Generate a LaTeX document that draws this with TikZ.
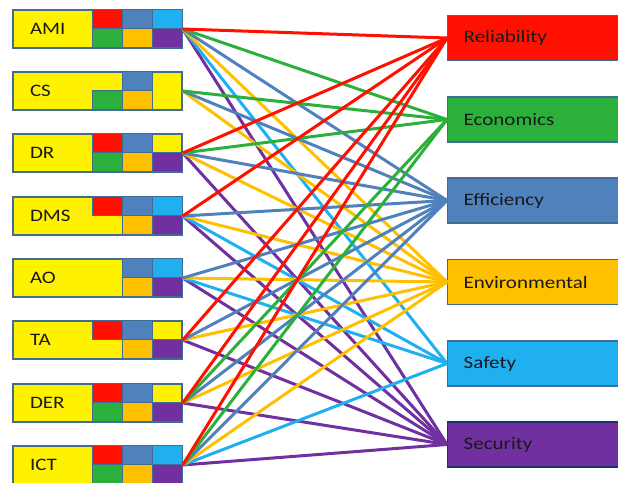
\documentclass[tikz,border=0pt]{standalone}
\usepackage{fontspec}
\setmainfont{Carlito}[FakeStretch=1.2]
\usepackage{tikz}
\usetikzlibrary{positioning}

\definecolor{rel}{RGB}{255,16,0}
\definecolor{eco}{RGB}{44,176,60}
\definecolor{eff}{RGB}{79,129,189}
\definecolor{env}{RGB}{255,192,0}
\definecolor{saf}{RGB}{32,176,240}
\definecolor{sec}{RGB}{112,48,160}
\definecolor{boxline}{RGB}{65,108,150}
\definecolor{darkline}{RGB}{30,50,110}
\definecolor{labeltext}{RGB}{25,25,25}

\tikzset{
	srcbox/.style={draw=boxline, fill=yellow, line width=1.4bp, minimum height=38bp,
		text width=135bp, inner xsep=17bp, align=left, text=labeltext,
		font=\fontsize{17.5bp}{20bp}\selectfont},
	tgtbox/.style={draw=boxline, line width=1.4bp, anchor=west, minimum height=45bp,
		text width=168bp, inner xsep=16bp, align=left, text=labeltext,
		font=\fontsize{17.5bp}{20bp}\selectfont},
	cellbox/.style={draw=boxline, line width=1.2bp},
	link/.style={line width=3bp}
}

\begin{document}
\begin{tikzpicture}
	\useasboundingbox (0bp,0bp) rectangle (618bp,-483bp);
	\clip (0bp,0bp) rectangle (618bp,-483bp);

	% systems
	\node (ami) at (97.5bp,-29bp)  [srcbox] {AMI};
	\node (cs)  at (97.5bp,-91bp)  [srcbox] {CS};
	\node (dr)  at (97.5bp,-153bp) [srcbox] {DR};
	\node (dms) at (97.5bp,-216bp) [srcbox] {DMS};
	\node (ao)  at (97.5bp,-278bp) [srcbox] {AO};
	\node (ta)  at (97.5bp,-340bp) [srcbox] {TA};
	\node (der) at (97.5bp,-403bp) [srcbox] {DER};
	\node (ict) at (97.5bp,-465bp) [srcbox] {ICT};

	% objectives
	\node (rel) at (447bp,-38bp)    [tgtbox, fill=rel] {Reliability};
	\node (eco) at (447bp,-119.5bp) [tgtbox, fill=eco] {Economics};
	\node (eff) at (447bp,-200.5bp) [tgtbox, fill=eff] {Efficiency};
	\node (env) at (447bp,-282bp)   [tgtbox, fill=env] {Environmental};
	\node (saf) at (447bp,-363.5bp) [tgtbox, fill=saf] {Safety};
	\node (sec) at (447bp,-444.5bp) [tgtbox, fill=sec, draw=darkline] {Security};

	% cell in the system box + line to the objective
	\foreach \t/\cx/\cy/\srcs in {
		sec/-30bp/-19bp/{ami,dr,dms,ao,ta,der,ict},
		saf/-30bp/0bp/{ami,dms,ao,ict},
		env/-60bp/-19bp/{ami,cs,dr,dms,ao,ta,der,ict},
		eff/-60bp/0bp/{ami,cs,dr,dms,ao,ta,der,ict},
		eco/-90bp/-19bp/{ami,cs,dr,der,ict},
		rel/-90bp/0bp/{ami,dr,dms,ta,der,ict}}
	\foreach \s in \srcs {
		\draw [cellbox, fill=\t] ([shift={(\cx,\cy)}]\s.north east) rectangle ++(30bp,-19bp);
		\draw [link, \t] (\s.east) -- (\t.west);
	}

\end{tikzpicture}
\end{document}
